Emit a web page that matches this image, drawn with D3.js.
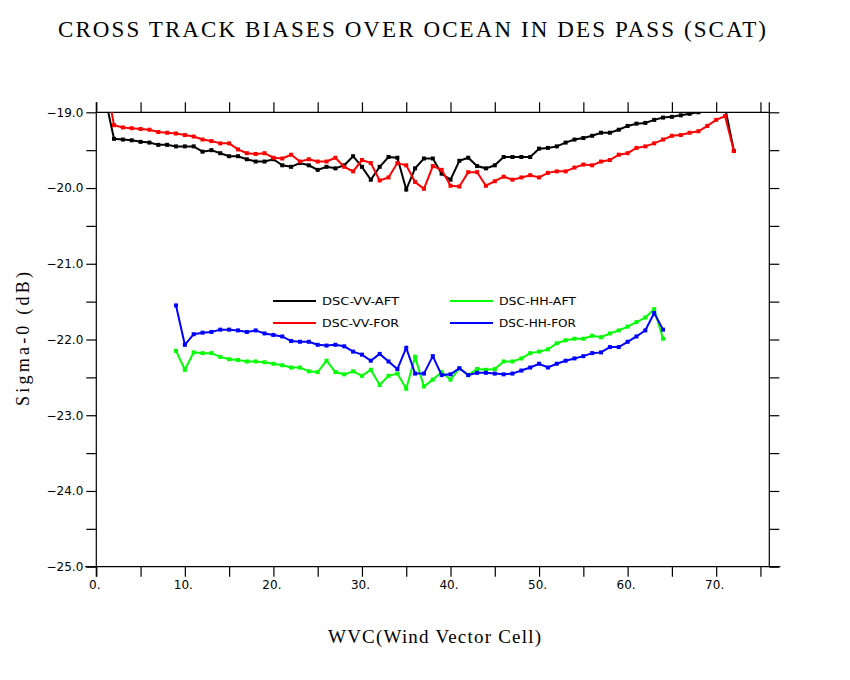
<!DOCTYPE html>
<html>
<head>
<meta charset="utf-8">
<script src="https://cdn.jsdelivr.net/npm/d3@7"></script>
<style>
  body { margin: 0; background: #fff; }
  svg { display: block; }
</style>
</head>
<body>
<div id="chart"></div>
<script>
// cross track sigma-0 biases, one value per wind vector cell
var vvFirstCell = 1;
var hhFirstCell = 9;

var vvAft = [
  -18.81, -19.35, -19.36, -19.37, -19.39, -19.40, -19.43, -19.43, -19.45, -19.45,
  -19.45, -19.52, -19.50, -19.54, -19.58, -19.58, -19.62, -19.65, -19.65, -19.62,
  -19.70, -19.72, -19.67, -19.70, -19.76, -19.72, -19.74, -19.70, -19.58, -19.72,
  -19.89, -19.72, -19.59, -19.60, -20.02, -19.74, -19.61, -19.61, -19.81, -19.89,
  -19.64, -19.60, -19.71, -19.74, -19.70, -19.59, -19.59, -19.59, -19.59, -19.48,
  -19.47, -19.45, -19.40, -19.36, -19.34, -19.31, -19.27, -19.27, -19.23, -19.18,
  -19.15, -19.14, -19.10, -19.07, -19.06, -19.04, -19.02, -19.00, -18.97, -18.95,
  -18.93, -19.51
];

var vvFor = [
  -18.54, -19.17, -19.20, -19.21, -19.22, -19.23, -19.26, -19.27, -19.28, -19.30,
  -19.32, -19.36, -19.38, -19.41, -19.41, -19.49, -19.54, -19.55, -19.54, -19.60,
  -19.61, -19.56, -19.65, -19.62, -19.65, -19.65, -19.60, -19.72, -19.78, -19.63,
  -19.67, -19.90, -19.86, -19.67, -19.70, -19.92, -20.01, -19.71, -19.76, -19.97,
  -19.98, -19.79, -19.79, -19.97, -19.91, -19.85, -19.89, -19.86, -19.83, -19.86,
  -19.80, -19.78, -19.78, -19.73, -19.69, -19.70, -19.65, -19.63, -19.56, -19.54,
  -19.47, -19.45, -19.41, -19.36, -19.31, -19.30, -19.27, -19.25, -19.18, -19.10,
  -19.05, -19.51
];

var hhAft = [
  -22.15, -22.40, -22.17, -22.18, -22.18, -22.23, -22.26, -22.27, -22.29, -22.29,
  -22.30, -22.32, -22.34, -22.37, -22.37, -22.42, -22.43, -22.28, -22.43, -22.46,
  -22.42, -22.48, -22.40, -22.60, -22.48, -22.45, -22.65, -22.23, -22.62, -22.53,
  -22.43, -22.53, -22.38, -22.47, -22.39, -22.40, -22.39, -22.29, -22.29, -22.25,
  -22.18, -22.16, -22.13, -22.05, -22.01, -21.99, -21.99, -21.95, -21.97, -21.92,
  -21.88, -21.83, -21.77, -21.71, -21.60, -21.99
];

var hhFor = [
  -21.55, -22.07, -21.93, -21.91, -21.90, -21.87, -21.87, -21.88, -21.90, -21.88,
  -21.92, -21.94, -21.96, -22.02, -22.03, -22.03, -22.07, -22.08, -22.07, -22.09,
  -22.16, -22.20, -22.28, -22.19, -22.29, -22.39, -22.11, -22.45, -22.45, -22.22,
  -22.47, -22.46, -22.38, -22.47, -22.44, -22.44, -22.45, -22.46, -22.45, -22.41,
  -22.37, -22.32, -22.37, -22.32, -22.28, -22.25, -22.22, -22.18, -22.17, -22.10,
  -22.10, -22.03, -21.96, -21.88, -21.65, -21.87
];

var seriesNames = ["DSC-VV-AFT", "DSC-VV-FOR", "DSC-HH-AFT", "DSC-HH-FOR"];
var seriesColors = ["#000000", "#ff0000", "#00ff00", "#0000ff"];

var xTicks = [0, 5, 10, 15, 20, 25, 30, 35, 40, 45, 50, 55, 60, 65, 70, 75];
var yTicks = [-19, -19.5, -20, -20.5, -21, -21.5, -22, -22.5, -23, -23.5, -24, -24.5, -25];

(function() {
  var width = 850, height = 680;
  var pLeft = 96.3, pRight = 769.3, pTop = 112.3, pBottom = 566.7;

  var svg = d3.select("#chart").append("svg")
    .attr("width", width).attr("height", height);

  var x = d3.scaleLinear().domain([0, 76]).range([pLeft, pRight]);
  var y = d3.scaleLinear().domain([-19, -25]).range([pTop, pBottom]);

  function toPoints(values, first) {
    return values.map(function(v, i) { return { wvc: first + i, v: v }; });
  }

  var series = [
    toPoints(vvAft, vvFirstCell),
    toPoints(vvFor, vvFirstCell),
    toPoints(hhAft, hhFirstCell),
    toPoints(hhFor, hhFirstCell)
  ];

  svg.append("defs").append("clipPath").attr("id", "plotClip")
    .append("rect").attr("x", pLeft).attr("y", pTop)
    .attr("width", pRight - pLeft).attr("height", pBottom - pTop);

  var tickFont = "'DejaVu Sans', sans-serif";

  // axes
  var xAxis = d3.axisBottom(x).tickValues(xTicks).tickSize(10).tickSizeOuter(0).tickPadding(4)
    .tickFormat(function(d) { return d % 10 === 0 ? d + "." : ""; });
  var xTop = d3.axisTop(x).tickValues(xTicks).tickSize(10).tickSizeOuter(0).tickFormat("");
  var yAxis = d3.axisLeft(y).tickValues(yTicks).tickSize(10).tickSizeOuter(0).tickPadding(3)
    .tickFormat(function(d) { return Number.isInteger(d) ? d3.format(".1f")(d) : ""; });
  var yRight = d3.axisRight(y).tickValues(yTicks).tickSize(10).tickSizeOuter(0).tickFormat("");

  function styleAxis(g) {
    g.select(".domain").remove();
    g.selectAll("line").attr("stroke", "#000").attr("stroke-width", 1.2);
    g.selectAll("text").attr("fill", "#000").style("font-family", tickFont).style("font-size", "12px");
  }

  svg.append("g").attr("transform", "translate(0," + pBottom + ")").call(xAxis).call(styleAxis)
    .selectAll("text").attr("dx", "-2");
  svg.append("g").attr("transform", "translate(0," + pTop + ")").call(xTop).call(styleAxis);
  svg.append("g").attr("transform", "translate(" + pLeft + ",0)").call(yAxis).call(styleAxis);
  svg.append("g").attr("transform", "translate(" + pRight + ",0)").call(yRight).call(styleAxis);

  // frame lines, stretched past the corners like the original
  var frame = svg.append("g").attr("stroke", "#000").attr("stroke-width", 1.2);
  frame.append("line").attr("x1", pLeft - 11).attr("x2", pRight + 11).attr("y1", pBottom).attr("y2", pBottom);
  frame.append("line").attr("x1", pLeft).attr("x2", pRight).attr("y1", pTop).attr("y2", pTop);
  frame.append("line").attr("x1", pLeft).attr("x2", pLeft).attr("y1", pTop - 10).attr("y2", pBottom + 10);
  frame.append("line").attr("x1", pRight).attr("x2", pRight).attr("y1", pTop - 10).attr("y2", pBottom);

  // data
  var line = d3.line().x(function(d) { return x(d.wvc); }).y(function(d) { return y(d.v); });
  var plot = svg.append("g").attr("clip-path", "url(#plotClip)");

  series.forEach(function(pts, s) {
    var g = plot.append("g");
    g.append("path").datum(pts).attr("d", line)
      .attr("fill", "none").attr("stroke", seriesColors[s]).attr("stroke-width", 2)
      .attr("stroke-linejoin", "miter");
    g.selectAll("rect").data(pts).enter().append("rect")
      .attr("x", function(d) { return x(d.wvc) - 2; })
      .attr("y", function(d) { return y(d.v) - 2; })
      .attr("width", 4).attr("height", 4)
      .attr("fill", seriesColors[s]);
  });

  // legend
  var legendPos = [[273, 301], [273, 323], [450, 301], [450, 323]];
  seriesNames.forEach(function(name, i) {
    var p = legendPos[i];
    svg.append("line").attr("x1", p[0]).attr("x2", p[0] + 43).attr("y1", p[1]).attr("y2", p[1])
      .attr("stroke", seriesColors[i]).attr("stroke-width", 2);
    svg.append("text").attr("x", p[0] + 49).attr("y", p[1] + 4)
      .attr("textLength", 77).attr("lengthAdjust", "spacingAndGlyphs")
      .style("font-family", tickFont).style("font-size", "11px").text(name);
  });

  // titles
  var serif = "'Liberation Serif', 'DejaVu Serif', serif";
  svg.append("text").attr("x", 58).attr("y", 37)
    .attr("textLength", 708).attr("lengthAdjust", "spacing")
    .style("font-family", serif).style("font-size", "23px")
    .text("CROSS TRACK BIASES OVER OCEAN IN DES PASS (SCAT)");

  svg.append("text").attr("x", 328).attr("y", 643)
    .attr("textLength", 213).attr("lengthAdjust", "spacing")
    .style("font-family", serif).style("font-size", "19px")
    .text("WVC(Wind Vector Cell)");

  svg.append("text")
    .attr("transform", "translate(29,406) rotate(-90)")
    .attr("textLength", 134).attr("lengthAdjust", "spacing")
    .style("font-family", serif).style("font-size", "18px")
    .text("Sigma-0 (dB)");
})();
</script>
</body>
</html>
